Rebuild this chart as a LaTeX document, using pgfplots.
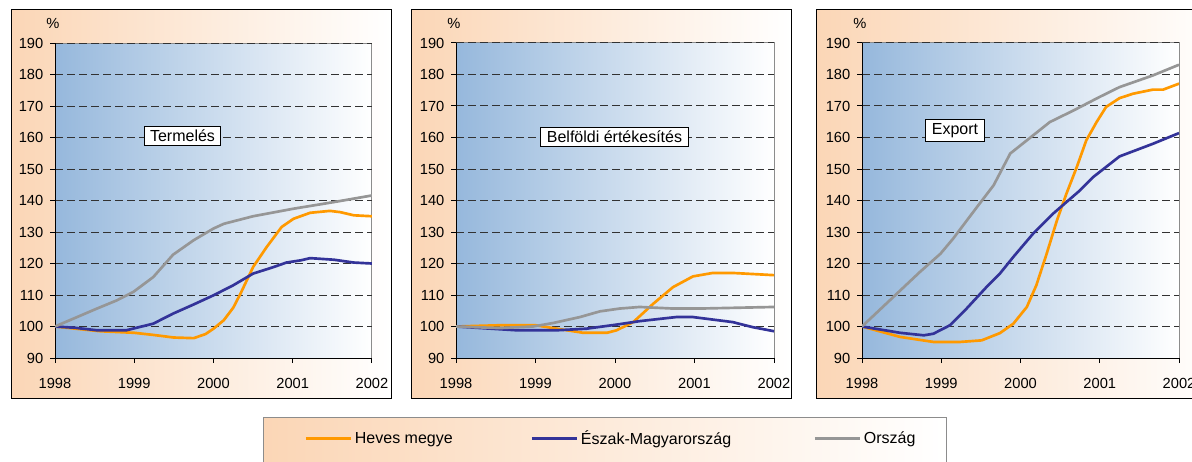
\documentclass[border=0pt]{standalone}
\usepackage{fontspec}
\setmainfont{Liberation Sans}
\usepackage{pgfplots}
\pgfplotsset{compat=1.18}
\definecolor{peach}{RGB}{251,214,182}
\definecolor{plotblue}{RGB}{150,184,220}
\definecolor{gridc}{RGB}{50,50,50}
\definecolor{plotborder}{RGB}{140,140,140}
\definecolor{sorange}{RGB}{255,153,0}
\definecolor{snavy}{RGB}{51,51,153}
\definecolor{sgray}{RGB}{150,150,150}
\pgfplotsset{panel/.style={
  scale only axis, height=236.25pt,
  xmin=1998,xmax=2002,ymin=90,ymax=190,
  xtick={1998,1999,2000,2001,2002}, ytick={90,100,...,190},
  /pgf/number format/assume math mode=true,
  /pgf/number format/1000 sep={},
  tick label style={font=\fontsize{11}{13}\selectfont, text=black},
  xticklabel style={yshift=-8.25pt},
  yticklabel style={xshift=-1.5pt},
  axis lines*=left,
  axis line style={black, line width=0.75pt},
  tick align=outside, major tick length=3.75pt,
  tick style={black, line width=0.75pt},
  ymajorgrids, grid style={dash pattern=on 6pt off 3pt, color=gridc, line width=0.75pt},
  axis background/.style={left color=plotblue, right color=white, draw=plotborder, line width=0.75pt},
  every axis plot/.append style={line width=2pt, line join=round, mark=none},
  anchor=south west,
}}
\begin{document}
\begin{tikzpicture}
\useasboundingbox (0pt,0pt) rectangle (894pt,345.75pt);
\begin{scope}[x=0.75pt,y=0.75pt]
\clip (0,0) rectangle (1192,461);
\shade[left color=peach, right color=white] (11,63) rectangle (391,451);
\draw[black, line width=0.75pt] (11,63) rectangle (391,451);
\shade[left color=peach, right color=white] (411,63) rectangle (791,451);
\draw[black, line width=0.75pt] (411,63) rectangle (791,451);
\shade[left color=peach, right color=white] (816,63) rectangle (1220,451);
\draw[black, line width=0.75pt] (816,63) rectangle (1220,451);
\shade[left color=peach, right color=white] (263,-10) rectangle (946,44);
\draw[plotborder, line width=0.75pt] (263,-10) rectangle (946,44);
\end{scope}

% Panel 1: Termeles
\begin{axis}[panel, at={(41.25pt,77.25pt)}, width=237.75pt,
  legend style={at={(0.7855,-0.2571)}, anchor=west, draw=none, fill=none,
    legend columns=3, font=\fontsize{12}{14}\selectfont, inner sep=0pt,
    nodes={inner sep=0pt}},
  legend image code/.code={\draw[#1, line width=2.25pt] (0pt,0pt) -- (33.75pt,0pt);}]
\addplot[sorange] coordinates {(1998,100) (1998.3,99.2) (1998.57,98.5) (1999,98) (1999.25,97.3) (1999.5,96.5) (1999.75,96.3) (1999.9,97.6) (2000,99.3) (2000.13,102) (2000.25,106) (2000.34,110.4) (2000.5,118.9) (2000.67,125.2) (2000.86,131.6) (2001.01,134.2) (2001.22,136.1) (2001.47,136.7) (2001.6,136.3) (2001.77,135.3) (2002,135)};
\addlegendentry{\hspace{2pt}\makebox[131.5pt][l]{Heves megye}}
\addplot[snavy] coordinates {(1998,100) (1998.25,99.6) (1998.53,98.8) (1998.9,98.8) (1999.24,100.9) (1999.49,104.1) (1999.75,107) (2000,109.9) (2000.25,113.1) (2000.5,116.8) (2000.75,118.8) (2000.92,120.3) (2001.1,121) (2001.22,121.7) (2001.52,121.2) (2001.77,120.3) (2002,120)};
\addlegendentry{\hspace{2pt}\makebox[174.25pt][l]{Észak-Magyarország}}
\addplot[sgray] coordinates {(1998,100) (1998.53,105.7) (1998.78,108.3) (1998.99,111) (1999.24,115.7) (1999.49,122.8) (1999.75,127.4) (2000,131.1) (2000.13,132.6) (2000.5,135) (2001.01,137.4) (2001.52,139.5) (2002,141.6)};
\addlegendentry{\hspace{2pt}Ország}
\end{axis}

% Panel 2: Belfoldi ertekesites
\begin{axis}[panel, at={(342pt,77.25pt)}, width=238.5pt]
\addplot[sorange] coordinates {(1998,100) (1998.55,100.4) (1999,100.4) (1999.27,99.3) (1999.6,98) (1999.9,98) (2000.02,98.8) (2000.23,101.4) (2000.48,107.2) (2000.73,112.5) (2000.98,115.9) (2001.23,117) (2001.48,117) (2002,116.3)};
\addplot[snavy] coordinates {(1998,100) (1998.76,98.8) (1999.27,98.8) (1999.64,99.3) (2000.02,100.6) (2000.31,101.7) (2000.77,103) (2000.98,103) (2001.48,101.4) (2001.73,99.8) (2002,98.5)};
\addplot[sgray] coordinates {(1998,100) (1998.55,99.5) (1998.97,100) (1999.22,101.1) (1999.56,103) (1999.81,104.8) (2000.06,105.7) (2000.31,106.2) (2000.73,105.7) (2001.07,105.7) (2002,106.2)};
\end{axis}

% Panel 3: Export
\begin{axis}[panel, at={(646.5pt,77.25pt)}, width=237.75pt]
\addplot[sorange] coordinates {(1998,100) (1998.48,96.7) (1998.9,95.1) (1999.24,95.1) (1999.51,95.6) (1999.74,97.9) (1999.91,100.9) (2000.08,106.2) (2000.2,113.1) (2000.33,123.1) (2000.46,133.7) (2000.58,142.2) (2000.71,150.6) (2000.83,159.1) (2000.96,164.9) (2001.08,169.7) (2001.25,172.5) (2001.42,173.9) (2001.67,175.2) (2001.8,175.2) (2002,177.1)};
\addplot[snavy] coordinates {(1998,100) (1998.48,98) (1998.78,97.2) (1998.9,97.7) (1999.11,100.4) (1999.32,105.7) (1999.57,112.5) (1999.74,116.8) (1999.91,122.1) (2000.16,129.5) (2000.41,135.8) (2000.75,143.2) (2000.92,147.5) (2001.25,154) (2001.67,158) (2002,161.4)};
\addplot[sgray] coordinates {(1998,100) (1998.73,117.3) (1998.99,123.1) (1999.15,127.9) (1999.45,137.9) (1999.66,144.8) (1999.87,154.9) (2000.16,160.7) (2000.37,164.9) (2000.67,168.6) (2001,172.9) (2001.25,176) (2001.67,179.7) (2002,183.1)};
\end{axis}

\begin{scope}[x=0.75pt,y=0.75pt]
\node[font=\fontsize{11}{13}\selectfont] at (53,438) {\%};
\node[font=\fontsize{11}{13}\selectfont] at (454,438) {\%};
\node[font=\fontsize{11}{13}\selectfont] at (860,438) {\%};
\node[draw=black, fill=white, line width=0.75pt, inner xsep=4.5pt, inner ysep=3pt, font=\fontsize{12}{14}\selectfont] at (182.5,325) {Termelés};
\node[draw=black, fill=white, line width=0.75pt, inner xsep=4.5pt, inner ysep=3pt, font=\fontsize{12}{14}\selectfont] at (614.5,324) {Belföldi értékesítés};
\node[draw=black, fill=white, line width=0.75pt, inner xsep=4.5pt, inner ysep=3pt, font=\fontsize{12}{14}\selectfont] at (955,330.5) {Export};
\end{scope}
\end{tikzpicture}
\end{document}
